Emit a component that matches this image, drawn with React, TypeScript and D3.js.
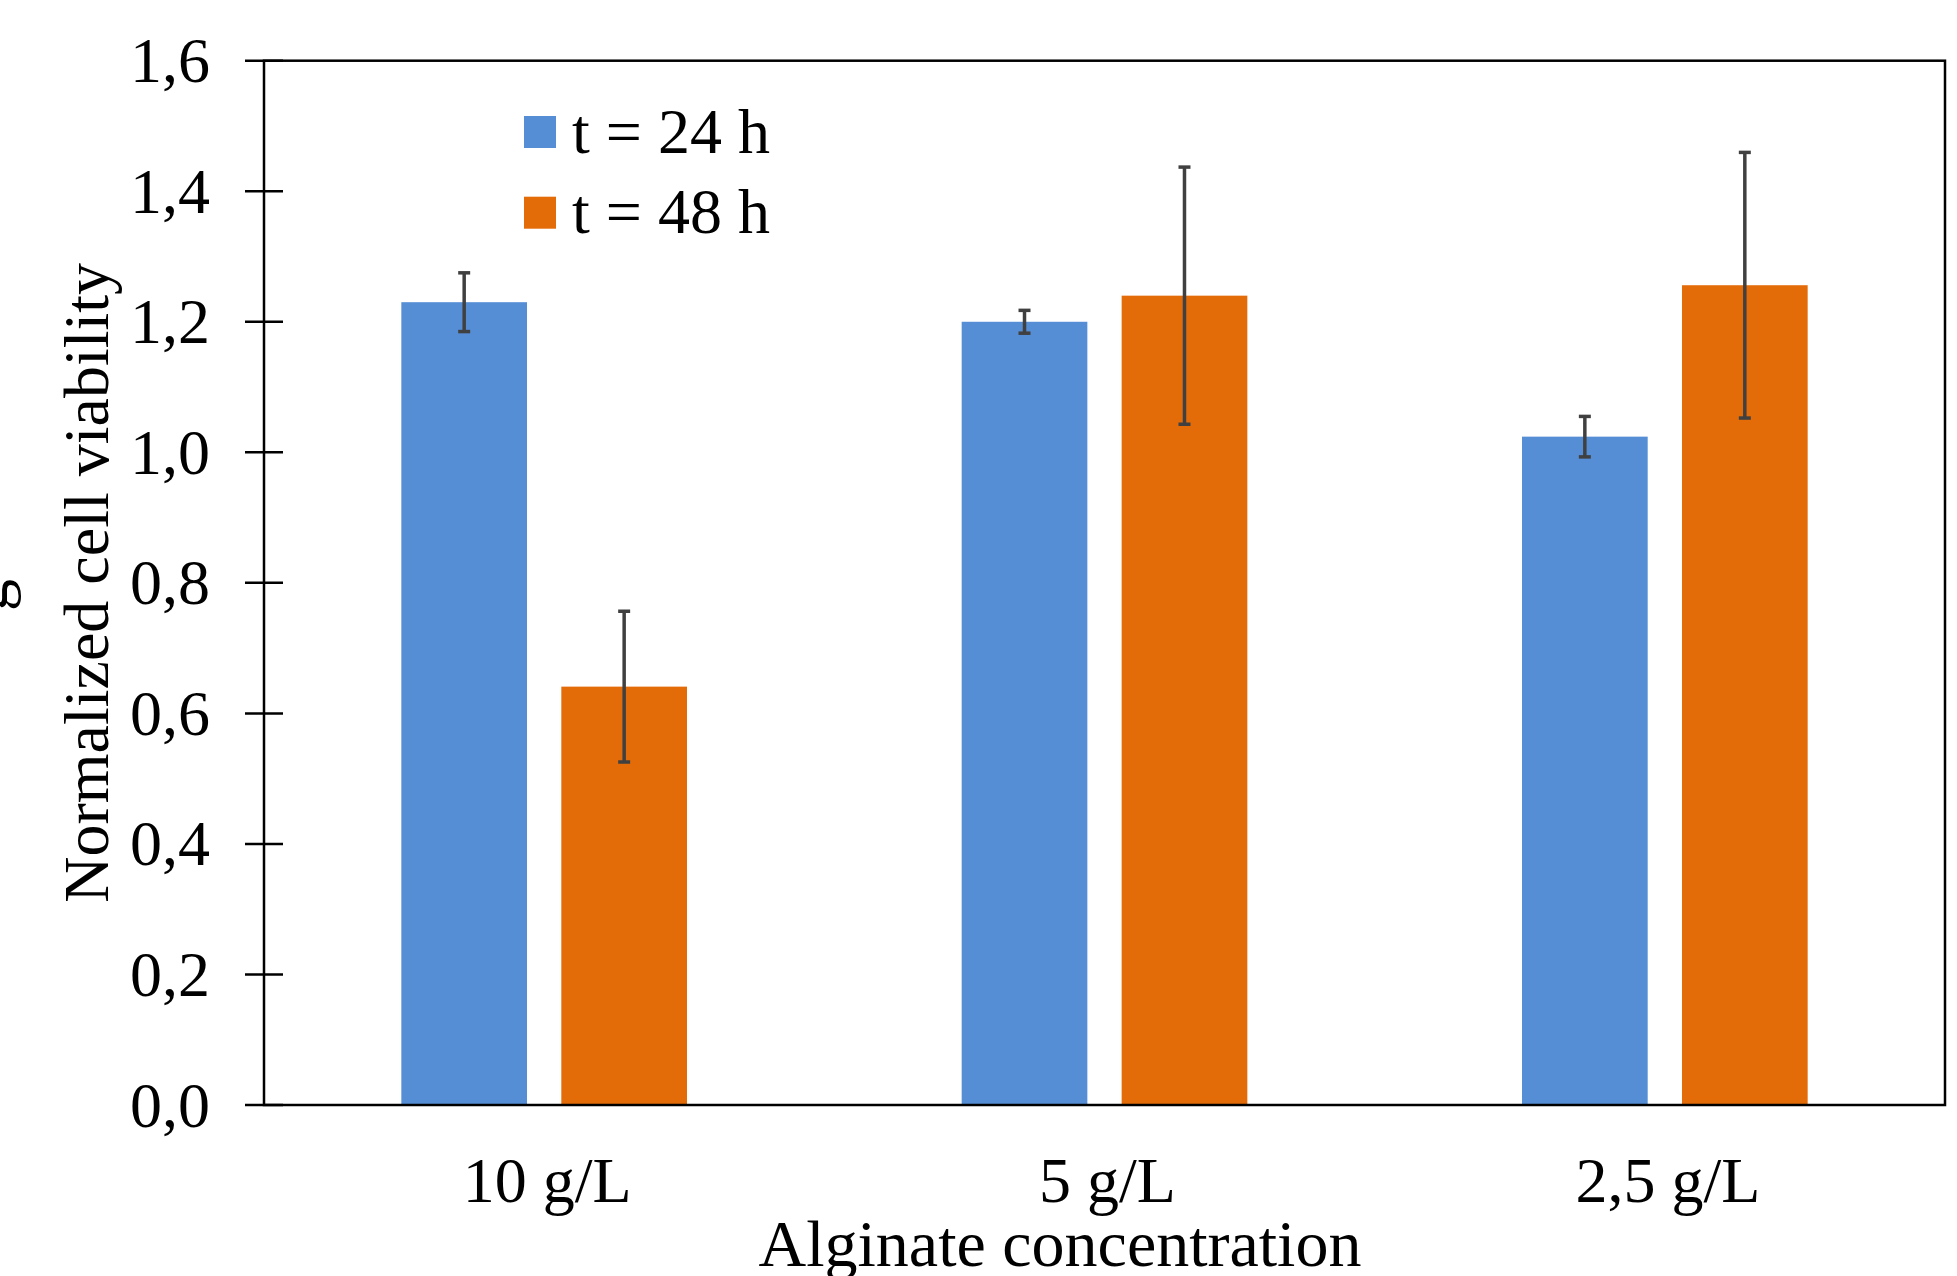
import React from "react";
import * as d3 from "d3";

const categories = ["10 g/L", "5 g/L", "2,5 g/L"];
const seriesNames = ["t = 24 h", "t = 48 h"];
const values24 = [1.23, 1.2, 1.024];
const errors24 = [0.045, 0.0175, 0.031];
const values48 = [0.641, 1.24, 1.256];
const errors48 = [0.1155, 0.197, 0.2035];
const yTicks = [0, 0.2, 0.4, 0.6, 0.8, 1.0, 1.2, 1.4, 1.6];
const yTitle = "Normalized cell viability";
const xTitle = "Alginate concentration";

const W = 1957;
const H = 1276;
const COLORS = ["#558ED5", "#E36C09"];
const FONT = "'Liberation Serif', 'Times New Roman', serif";

export default function App() {
  const left = 264;
  const right = 1945;
  const top = 60.7;
  const bottom = 1105;

  const x = d3.scaleBand<string>().domain(categories).range([left, right]).padding(0);
  const y = d3.scaleLinear().domain([0, 1.6]).range([bottom, top]);
  const bw = x.bandwidth();
  const barW = bw * 0.2243;
  const gap = bw * 0.0612;

  const series = [
    { name: seriesNames[0], values: values24, errors: errors24, color: COLORS[0], offset: -gap / 2 - barW },
    { name: seriesNames[1], values: values48, errors: errors48, color: COLORS[1], offset: gap / 2 },
  ];

  const fmt = (v: number) => v.toFixed(1).replace(".", ",");

  return (
    <svg
      width={W}
      height={H}
      viewBox={`0 0 ${W} ${H}`}
      style={{ position: "absolute", left: 0, top: 0, background: "#fff" }}
      fontFamily={FONT}
    >
      <rect x={0} y={0} width={W} height={H} fill="#fff" />

      {/* bars */}
      {series.map((s, si) =>
        categories.map((c, i) => {
          const cx = (x(c) as number) + bw / 2;
          const bx = cx + s.offset;
          return (
            <rect
              key={`b${si}-${i}`}
              x={bx}
              y={y(s.values[i])}
              width={barW}
              height={y(0) - y(s.values[i])}
              fill={s.color}
            />
          );
        })
      )}

      {/* error bars */}
      {series.map((s, si) =>
        categories.map((c, i) => {
          const cx = (x(c) as number) + bw / 2;
          const ex = cx + s.offset + barW / 2;
          const y1 = y(s.values[i] + s.errors[i]);
          const y2 = y(s.values[i] - s.errors[i]);
          return (
            <g key={`e${si}-${i}`} stroke="#404040" strokeWidth={3.5}>
              <line x1={ex} x2={ex} y1={y1} y2={y2} />
              <line x1={ex - 6} x2={ex + 6} y1={y1} y2={y1} />
              <line x1={ex - 6} x2={ex + 6} y1={y2} y2={y2} />
            </g>
          );
        })
      )}

      {/* frame */}
      <rect x={left} y={top} width={right - left} height={bottom - top} fill="none" stroke="#000" strokeWidth={2.5} />

      {/* y ticks and labels */}
      {yTicks.map((t) => (
        <g key={`t${t}`}>
          <line x1={245} x2={283} y1={y(t)} y2={y(t)} stroke="#000" strokeWidth={2.5} />
          <text x={210} y={y(t) + 21.5} fontSize={64} textAnchor="end" fill="#000">
            {fmt(t)}
          </text>
        </g>
      ))}

      {/* x category labels */}
      {categories.map((c) => (
        <text key={c} x={(x(c) as number) + bw / 2 + 3} y={1201.7} fontSize={64} textAnchor="middle" fill="#000">
          {c}
        </text>
      ))}

      {/* axis titles */}
      <text x={1060} y={1266} fontSize={66} textAnchor="middle" fill="#000">
        {xTitle}
      </text>
      <text
        transform={`translate(108, ${(top + bottom) / 2}) rotate(-90)`}
        fontSize={64}
        textAnchor="middle"
        fill="#000"
      >
        {yTitle}
      </text>
      {/* clipped fragment at the left edge */}
      <text transform={`translate(7, 595) rotate(-90)`} fontSize={64} textAnchor="middle" fill="#000">
        g
      </text>

      {/* legend */}
      {series.map((s, si) => (
        <g key={`l${si}`}>
          <rect x={524} y={116 + si * 80.7} width={32} height={32} fill={s.color} />
          <text x={572} y={152.7 + si * 80.7} fontSize={64} fill="#000">
            {s.name}
          </text>
        </g>
      ))}
    </svg>
  );
}
